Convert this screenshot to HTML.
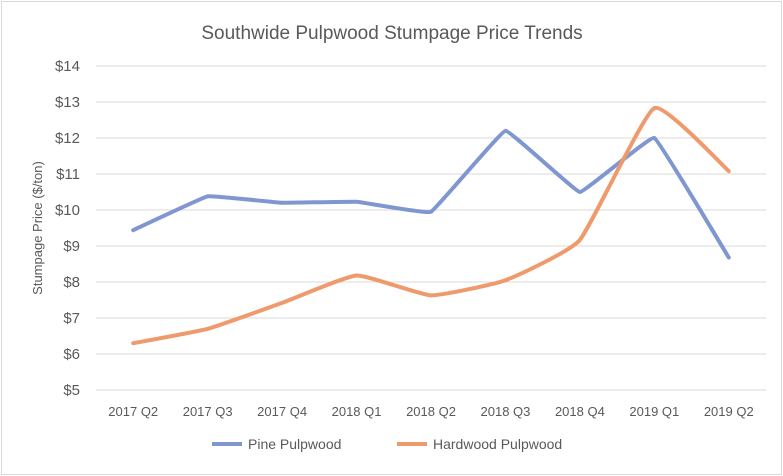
<!DOCTYPE html>
<html><head><meta charset="utf-8"><style>
html,body{margin:0;padding:0;background:#fff;}
svg{display:block;font-family:"Liberation Sans","DejaVu Sans",sans-serif;}
</style></head><body>
<svg id="chart" width="783" height="476">
<rect x="1.5" y="1.5" width="780" height="473" fill="#fff" stroke="#d9d9d9"/>
<text x="392" y="39" text-anchor="middle" font-size="19" fill="#595959">Southwide Pulpwood Stumpage Price Trends</text>
<text transform="translate(42,228) rotate(-90)" text-anchor="middle" font-size="13" fill="#595959">Stumpage Price ($/ton)</text>
<g id="grid"></g><g id="series"></g><g id="labels"></g>
<g>
<line x1="212" y1="444" x2="242" y2="444" stroke="#7f96d0" stroke-width="4"/>
<text x="248" y="449" font-size="14" fill="#595959">Pine Pulpwood</text>
<line x1="397" y1="444" x2="427" y2="444" stroke="#ef9a6c" stroke-width="4"/>
<text x="433" y="449" font-size="14" fill="#595959">Hardwood Pulpwood</text>
</g>
</svg>
<script>
const categories=["2017 Q2","2017 Q3","2017 Q4","2018 Q1","2018 Q2","2018 Q3","2018 Q4","2019 Q1","2019 Q2"];
const pine=[9.44,10.38,10.2,10.23,9.95,12.2,10.5,12.0,8.68];
const hardwood=[6.3,6.7,7.42,8.18,7.63,8.05,9.17,12.83,11.08];
const yTicks=[5,6,7,8,9,10,11,12,13,14];
const NS="http://www.w3.org/2000/svg";
const X0=96,X1=766,YT=66,YB=390,YMIN=5,YMAX=14;
const step=(X1-X0)/categories.length;
const xs=i=>X0+step*(i+0.5);
const ys=v=>YB-(v-YMIN)/(YMAX-YMIN)*(YB-YT);
const grid=document.getElementById('grid'),labels=document.getElementById('labels'),series=document.getElementById('series');
yTicks.forEach(t=>{
 const l=document.createElementNS(NS,'line');
 l.setAttribute('x1',X0);l.setAttribute('x2',X1);l.setAttribute('y1',ys(t));l.setAttribute('y2',ys(t));
 l.setAttribute('stroke','#d9d9d9');l.setAttribute('stroke-width','1');
 
 
 grid.appendChild(l);
 const tx=document.createElementNS(NS,'text');
 tx.setAttribute('x',80);tx.setAttribute('y',ys(t)+5);tx.setAttribute('text-anchor','end');
 tx.setAttribute('font-size','15');tx.setAttribute('fill','#595959');tx.textContent='$'+t;
 
 
 labels.appendChild(tx);
});
categories.forEach((c,i)=>{
 const tx=document.createElementNS(NS,'text');
 tx.setAttribute('x',xs(i));tx.setAttribute('y',416);tx.setAttribute('text-anchor','middle');
 tx.setAttribute('font-size','13');tx.setAttribute('fill','#595959');tx.textContent=c;
 
 
 labels.appendChild(tx);
});
function smooth(vals,k){
 const p=vals.map((v,i)=>[xs(i),ys(v)]);
 let d='M'+p[0][0]+','+p[0][1];
 for(let i=0;i<p.length-1;i++){
  const p0=p[i-1]||p[i],p1=p[i],p2=p[i+1],p3=p[i+2]||p[i+1];
  const c1=[p1[0]+(p2[0]-p0[0])*k,p1[1]+(p2[1]-p0[1])*k];
  const c2=[p2[0]-(p3[0]-p1[0])*k,p2[1]-(p3[1]-p1[1])*k];
  d+=' C'+c1+' '+c2+' '+p2;
 }
 return d;
}
[[pine,'#7f96d0','pine-line',0.03],[hardwood,'#ef9a6c','hardwood-line',0.07]].forEach(([v,c,n,k])=>{
 const path=document.createElementNS(NS,'path');
 path.setAttribute('d',smooth(v,k));path.setAttribute('fill','none');
 path.setAttribute('stroke',c);path.setAttribute('stroke-width','4');path.setAttribute('stroke-linecap','round');path.setAttribute('stroke-linejoin','round');
 
 
 series.appendChild(path);
});
</script>
</body></html>
